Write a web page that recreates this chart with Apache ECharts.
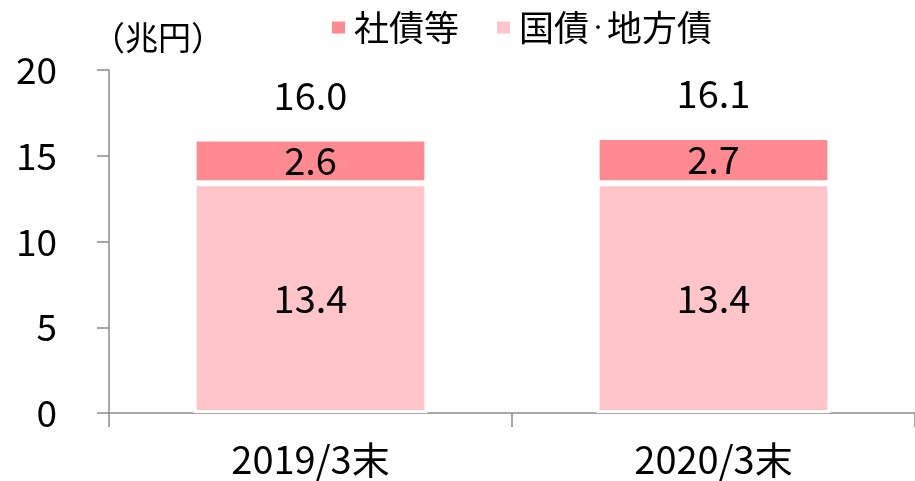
<!DOCTYPE html>
<html>
<head>
<meta charset="utf-8">
<script src="https://cdn.jsdelivr.net/npm/echarts@6/dist/echarts.min.js"></script>
<style>
html,body{margin:0;padding:0;background:#fff;}
#chart{width:915px;height:481px;}
</style>
</head>
<body>
<div id="chart"></div>
<script>
var categories = ['2019/3末', '2020/3末'];
var govBonds = [13.4, 13.4];
var corpBonds = [2.6, 2.7];
var totals = [16.0, 16.1];
var yTicks = [0, 5, 10, 15, 20];

var FONT = '"Noto Sans CJK JP", sans-serif';

var myChart = echarts.init(document.getElementById('chart'));
var option = {
	animation: false,
	title: {
		text: '（兆円）',
		left: 87,
		top: 16,
		textStyle: { fontFamily: FONT, fontSize: 33, fontWeight: 'normal', color: '#000' }
	},
	legend: {
		data: ['社債等', '国債・地方債'],
		left: 325,
		top: 5,
		icon: 'rect',
		itemWidth: 15,
		itemHeight: 14,
		itemGap: 36,
		formatter: function (name) {
			if (name === '国債・地方債') return '{a|国債}{d|・}{a|地方債}';
			return '{a|' + name + '}';
		},
		textStyle: {
			fontFamily: FONT, fontSize: 35, color: '#000', padding: [0, 0, 0, 3],
			rich: {
				a: { fontFamily: FONT, fontSize: 35, color: '#000' },
				d: { fontFamily: FONT, fontSize: 18, color: '#000', verticalAlign: 'middle' }
			}
		}
	},
	grid: { left: 109, right: 0, top: 70, bottom: 68 },
	xAxis: {
		type: 'category',
		data: categories,
		axisLine: { lineStyle: { color: '#8c8c8c', width: 1.5 } },
		axisTick: { show: true, length: 14, lineStyle: { color: '#8c8c8c', width: 1.5 } },
		axisLabel: { margin: 28, fontFamily: FONT, fontSize: 38, color: '#000' }
	},
	yAxis: {
		type: 'value',
		min: 0,
		max: 20,
		interval: 5,
		splitLine: { show: false },
		axisLine: { show: true, lineStyle: { color: '#8c8c8c', width: 1.5 } },
		axisTick: { show: true, length: 12, lineStyle: { color: '#8c8c8c', width: 1.5 } },
		axisLabel: {
			margin: 52, fontFamily: FONT, fontSize: 37, color: '#000',
			formatter: function (v) { return yTicks.indexOf(v) >= 0 ? String(v) : ''; }
		}
	},
	series: [
		{
			name: '国債・地方債',
			type: 'bar',
			stack: 'a',
			barWidth: '58%',
			data: govBonds,
			itemStyle: { color: '#ffc5c8', borderColor: '#fff', borderWidth: 3 },
			label: { show: true, position: 'inside', fontFamily: FONT, fontSize: 38, color: '#000',
				formatter: function (p) { return p.value.toFixed(1); } }
		},
		{
			name: '社債等',
			type: 'bar',
			stack: 'a',
			data: corpBonds,
			itemStyle: { color: '#ff8a92', borderColor: '#fff', borderWidth: 3 },
			label: { show: true, position: 'inside', fontFamily: FONT, fontSize: 38, color: '#000',
				formatter: function (p) { return p.value.toFixed(1); } }
		},
		{
			name: '合計',
			type: 'scatter',
			data: totals,
			symbolSize: 0,
			silent: true,
			itemStyle: { opacity: 1 },
			label: { show: true, position: 'inside', offset: [0, -43], fontFamily: FONT, fontSize: 38, color: '#000',
				formatter: function (p) { return p.value.toFixed(1); } }
		}
	]
};
myChart.setOption(option);
</script>
</body>
</html>
